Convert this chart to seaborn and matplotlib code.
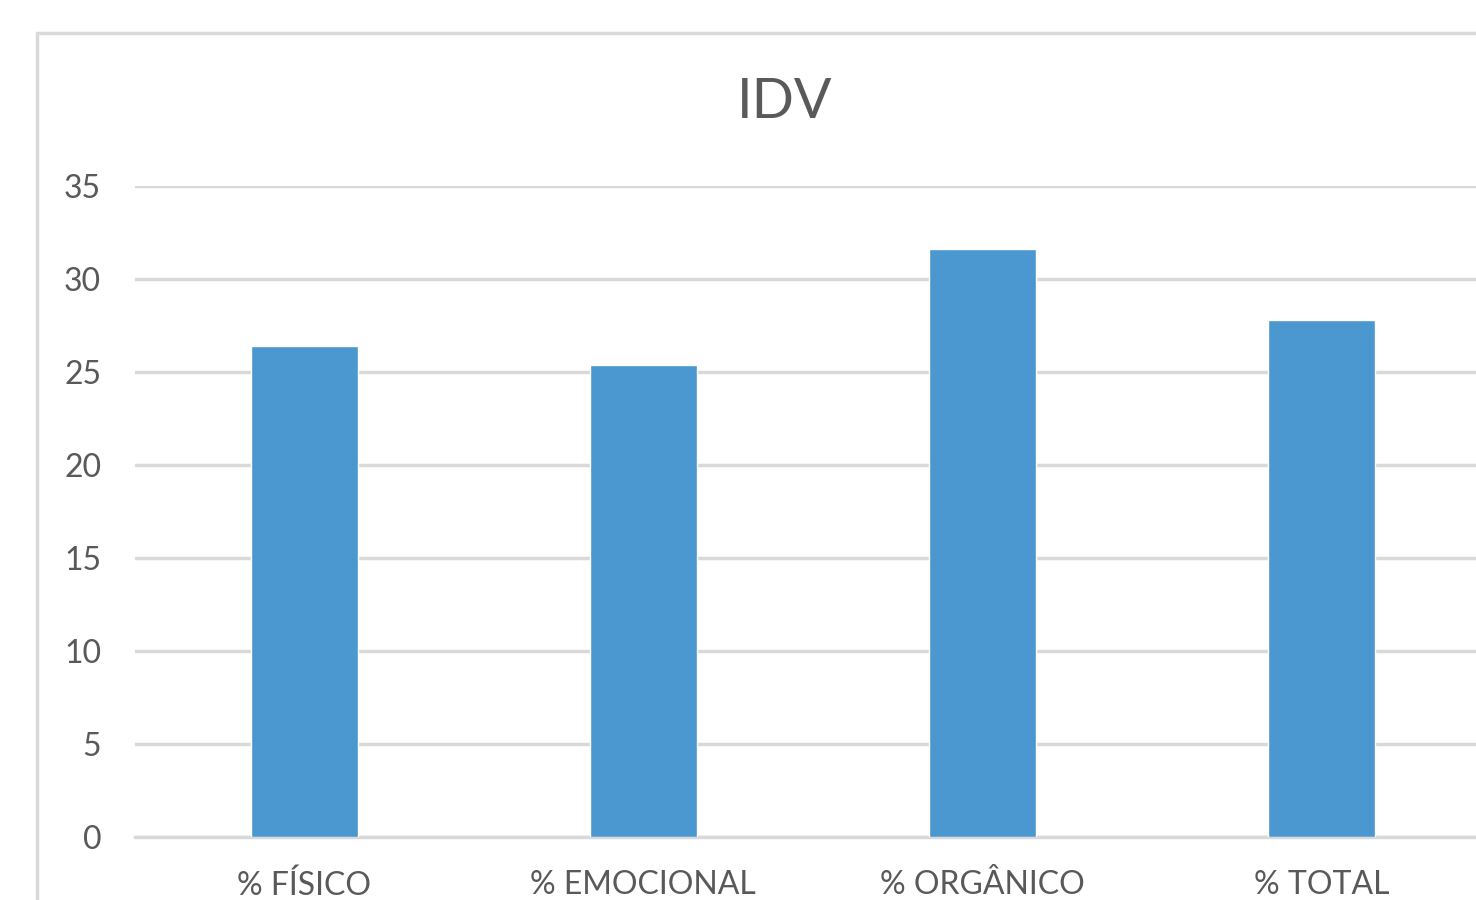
import matplotlib
matplotlib.use("Agg")
import matplotlib.pyplot as plt
import seaborn as sns
import pandas as pd
from matplotlib.patches import Rectangle

categorias = ["% FÍSICO", "% EMOCIONAL", "% ORGÂNICO", "% TOTAL"]
valores = [26.4, 25.4, 31.6, 27.8]
yticks = [0, 5, 10, 15, 20, 25, 30, 35]

sns.set_style('white')
plt.rcParams['font.family'] = ['Lato', 'DejaVu Sans']

df = pd.DataFrame({"cat": categorias, "val": valores})

W, H = 1476, 900
fig = plt.figure(figsize=(W / 100, H / 100), dpi=100)
fig.patch.set_facecolor('white')

# chart border (runs off the right/bottom edge like the screenshot)
fig.patches.append(Rectangle((37 / W, -0.05), 1.1, 1 - 33 / H + 0.05,
                             transform=fig.transFigure, fill=False,
                             edgecolor='#d9d9d9', linewidth=2.5, zorder=0))

ax = fig.add_axes([134.5 / W, 1 - 837 / H, (1491.5 - 134.5) / W, (837 - 186) / H])
sns.barplot(data=df, x="cat", y="val", color="#4b97d0", width=0.315,
            saturation=1, ax=ax, zorder=3)

ax.set_ylim(0, 35)
ax.set_xlim(-0.5, 3.5)
ax.set_yticks(yticks)
ax.yaxis.grid(True, color='#d9d9d9', linewidth=2.5)
ax.set_axisbelow(True)
for s in ['top', 'right', 'left']:
    ax.spines[s].set_visible(False)
ax.spines['bottom'].set_color('#d9d9d9')
ax.spines['bottom'].set_linewidth(2.5)
ax.tick_params(axis='both', length=0, labelcolor='#595959')
ax.tick_params(axis='y', pad=24, labelsize=23)
ax.tick_params(axis='x', pad=24, labelsize=23)
ax.set_xlabel("")
ax.set_ylabel("")

fig.text(785 / W, 1 - 102 / H, "IDV", ha='center', va='center',
         fontsize=40, color='#595959')

fig.savefig("out.png", dpi=100)
